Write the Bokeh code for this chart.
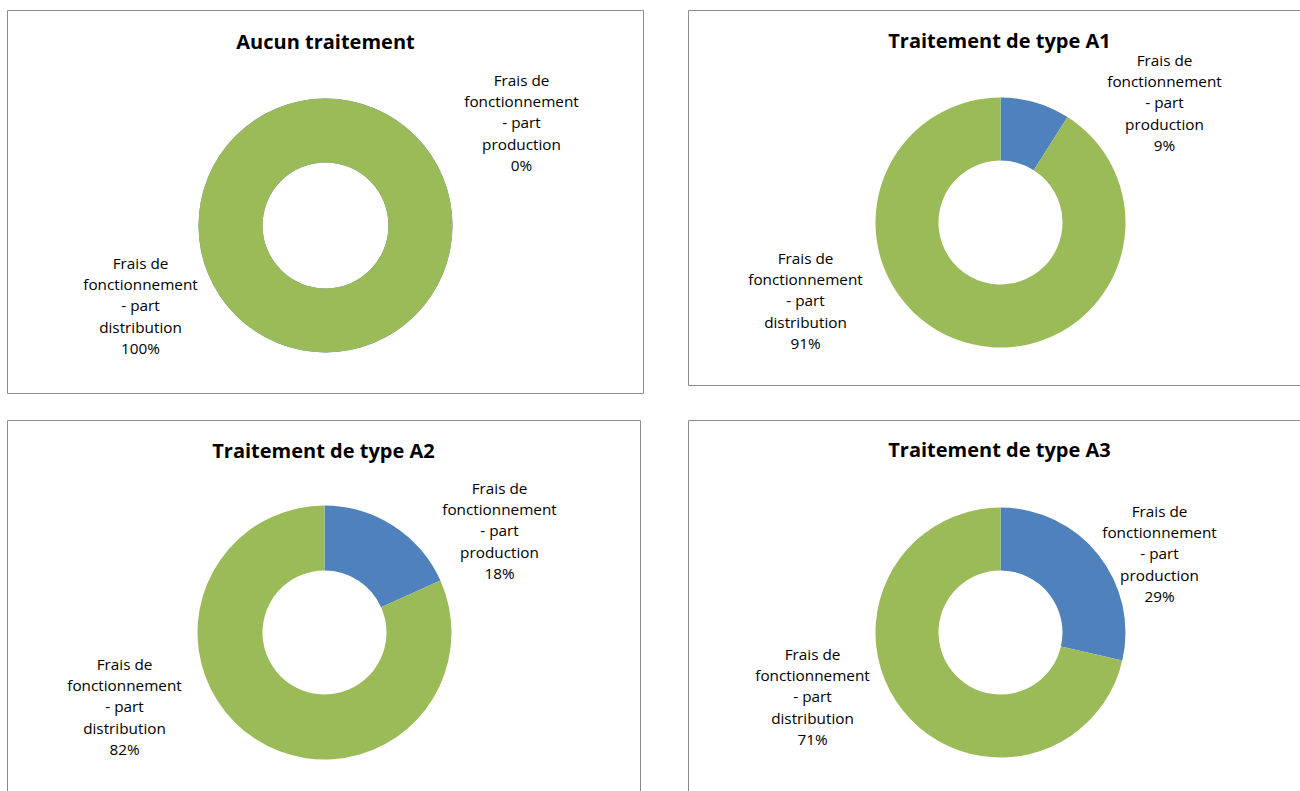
import math
from bokeh.plotting import figure
from bokeh.models import Range1d, ColumnDataSource
from bokeh.core.properties import value
from bokeh.embed import file_html
from bokeh.resources import INLINE

# ---------------- data ----------------
titles = ["Aucun traitement", "Traitement de type A1",
          "Traitement de type A2", "Traitement de type A3"]
categories = ["Frais de fonctionnement - part production",
              "Frais de fonctionnement - part distribution"]
production = [0.0, 9.0, 18.3, 28.6]          # % part production
distribution = [100.0, 91.0, 81.7, 71.4]     # % part distribution
colors = ["#4F81BD", "#9BBB59"]

# ---------------- layout (screen pixels) ----------------
W, H = 1300, 791
OX, OY = 0, 0


def Y(sy):
    return (OY + H) - sy


def X(sx):
    return sx


panels = [  # x0, y0, x1, y1 of border
    (7, 10, 643, 393),
    (688, 10, 1310, 385),
    (7, 420, 640, 800),
    (688, 420, 1310, 800),
]
centers = [(325, 225), (1000, 222), (324, 632), (1000, 632)]
outer_r = [127, 125, 127, 125]
inner_r = [63, 62, 62, 62]
title_pos = [(325, 41), (999, 40), (323, 450), (999, 449)]
prod_lbl = [(521, 122), (1164, 102), (499, 530), (1159, 553)]
dist_lbl = [(140, 305), (805, 300), (124, 706), (812, 696)]

p = figure(width=W, height=H, output_backend="svg", toolbar_location=None,
           x_range=Range1d(OX, OX + W), y_range=Range1d(0, H),
           min_border=0, match_aspect=False)
p.axis.visible = False
p.xgrid.visible = False
p.ygrid.visible = False
p.outline_line_color = None
p.background_fill_color = "white"

FONT = value("Open Sans")
FS = 15.3

for i in range(4):
    x0, y0, x1, y1 = panels[i]
    p.quad(left=X(x0), right=X(x1), top=Y(y0), bottom=Y(y1),
           fill_color=None, line_color="#8C8C8C", line_width=1)

    vals = [production[i], distribution[i]]
    total = sum(vals)
    starts, ends = [], []
    acc = 0.0
    for v in vals:
        a0 = math.pi / 2 - 2 * math.pi * acc / total
        acc += v
        a1 = math.pi / 2 - 2 * math.pi * acc / total
        starts.append(a0)
        ends.append(a1)
    cx, cy = centers[i]
    src = ColumnDataSource(dict(x=[X(cx)] * 2, y=[Y(cy)] * 2,
                                start=starts, end=ends, color=colors,
                                val=vals))
    p.annular_wedge(x="x", y="y", inner_radius=inner_r[i],
                    outer_radius=outer_r[i], start_angle="start",
                    end_angle="end", direction="clock", color="color",
                    line_color=None, source=src)

    tx, ty = title_pos[i]
    p.text(x=[X(tx)], y=[Y(ty)], text=[titles[i]], text_align="center",
           text_baseline="middle", text_font=FONT, text_font_style="bold",
           text_font_size="20px", text_color="black")

    for j, (lx, ly) in enumerate([prod_lbl[i], dist_lbl[i]]):
        name = "Frais de\nfonctionnement\n- part\n" + categories[j].split("- part ")[1]
        txt = name + "\n" + f"{round(vals[j]):d}%"
        p.text(x=[X(lx)], y=[Y(ly)], text=[txt], text_align="center",
               text_baseline="middle", text_font=FONT,
               text_font_size=f"{FS}px", text_color="black",
               text_line_height=1.06)

open("out.html", "w").write(file_html(p, INLINE))
